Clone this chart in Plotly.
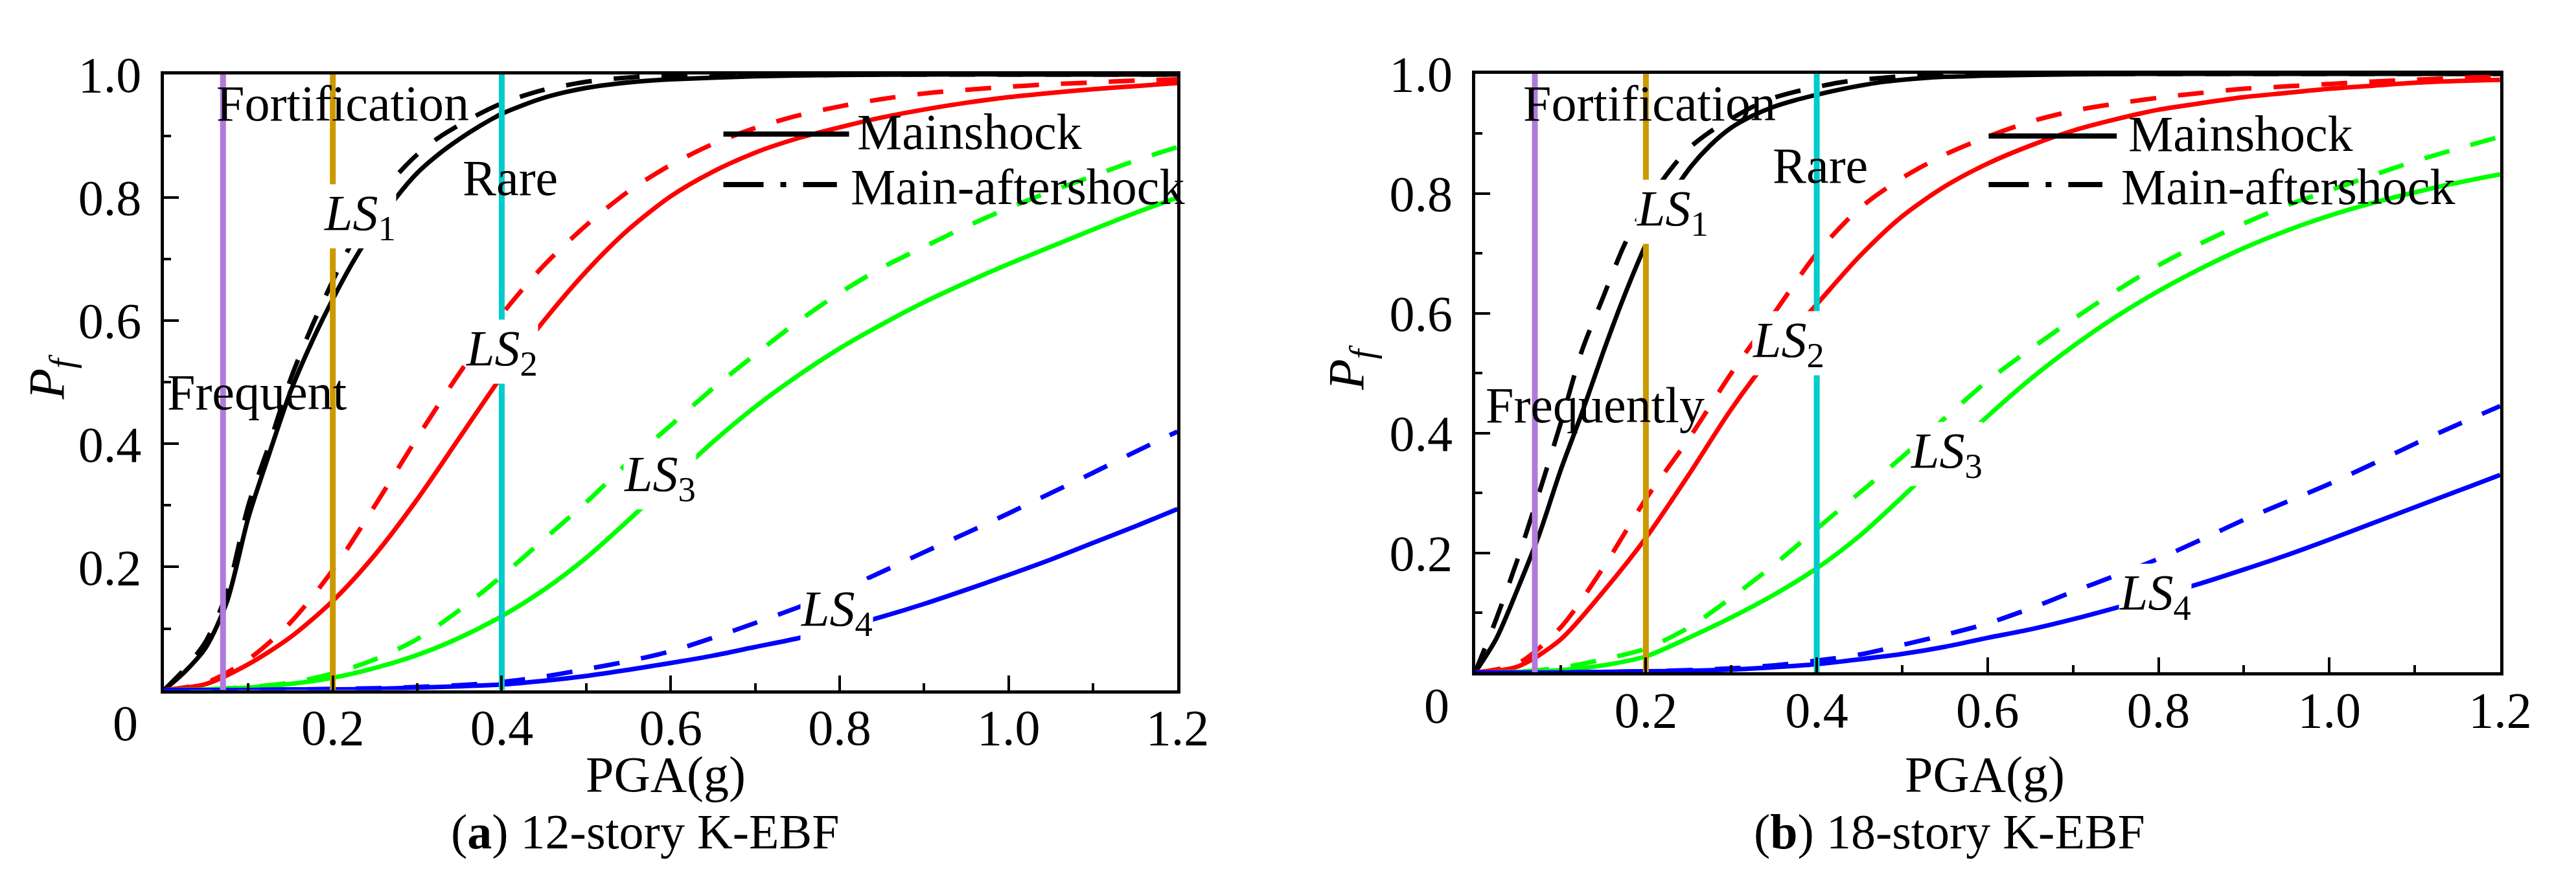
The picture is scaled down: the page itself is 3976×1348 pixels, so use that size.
import plotly.graph_objects as go

# PGA grids (g): finer grid for the steep LS1 curves
pga_ls1 = [0, 0.025, 0.05, 0.075, 0.1, 0.125, 0.15, 0.175, 0.2, 0.225, 0.25, 0.275,
           0.3, 0.325, 0.35, 0.375, 0.4, 0.425, 0.45, 0.475, 0.5, 0.525, 0.55, 0.575,
           0.6, 0.7, 0.8, 0.9, 1.0, 1.1, 1.2]
pga = [0, 0.05, 0.1, 0.15, 0.2, 0.25, 0.3, 0.35, 0.4, 0.45, 0.5, 0.55, 0.6, 0.65,
       0.7, 0.75, 0.8, 0.85, 0.9, 0.95, 1.0, 1.05, 1.1, 1.15, 1.2]

# (a) 12-story K-EBF
a_ls1_main = [0, .03, .07, .145, .28, .385, .485, .565, .635, .698, .752, .80, .84,
              .87, .895, .917, .936, .95, .962, .971, .978, .983, .987, .99, .992,
              .997, .999, 1, 1, 1, 1]
a_ls1_after = [0, .035, .08, .16, .30, .40, .505, .59, .665, .733, .79, .835, .87,
               .897, .918, .937, .953, .965, .975, .982, .988, .992, .995, .997, .998,
               1, 1, 1, 1, 1, 1]
a_ls2_main = [0, .01, .042, .086, .145, .22, .31, .41, .51, .60, .68, .748, .802,
              .842, .873, .896, .914, .93, .943, .954, .963, .97, .976, .981, .986]
a_ls2_after = [0, .012, .05, .11, .195, .30, .41, .515, .61, .69, .755, .81, .853,
               .887, .913, .933, .948, .96, .969, .975, .98, .984, .987, .99, .992]
a_ls3_main = [0, .001, .004, .01, .02, .036, .057, .085, .12, .163, .215, .276, .34,
              .403, .46, .51, .555, .594, .63, .662, .692, .72, .748, .775, .80]
a_ls3_after = [0, .001, .005, .012, .027, .05, .083, .13, .185, .245, .305, .37, .43,
               .49, .545, .598, .645, .686, .72, .753, .783, .81, .835, .86, .882]
a_ls4_main = [0, 0, 0, .001, .001, .002, .004, .006, .009, .015, .023, .033, .044,
              .056, .07, .084, .10, .119, .14, .163, .187, .212, .239, .266, .294]
a_ls4_after = [0, 0, 0, .001, .002, .003, .005, .008, .013, .022, .034, .047, .063,
               .085, .109, .134, .161, .192, .224, .255, .287, .32, .353, .387, .42]

# (b) 18-story K-EBF
b_ls1_main = [0, .057, .14, .23, .337, .433, .535, .63, .715, .785, .84, .88, .91,
              .93, .945, .956, .965, .973, .98, .986, .99, .993, .995, .996, .997,
              .999, 1, 1, 1, 1, 1]
b_ls1_after = [0, .09, .19, .30, .415, .537, .627, .715, .78, .833, .875, .903, .925,
               .945, .96, .97, .978, .985, .99, .993, .996, .997, .998, .999, .999,
               1, 1, 1, 1, 1, 1]
b_ls2_main = [0, .01, .055, .135, .225, .33, .44, .535, .615, .695, .762, .812, .85,
              .88, .905, .924, .94, .951, .961, .968, .975, .98, .985, .988, .99]
b_ls2_after = [0, .015, .075, .175, .29, .39, .50, .60, .70, .775, .826, .865, .895,
               .92, .938, .95, .96, .968, .975, .979, .983, .987, .99, .993, .995]
b_ls3_main = [0, .001, .004, .012, .027, .058, .092, .13, .174, .228, .293, .361, .428,
              .49, .545, .594, .637, .675, .709, .738, .763, .784, .802, .818, .832]
b_ls3_after = [0, .001, .008, .022, .04, .075, .125, .18, .24, .30, .36, .425, .487,
               .54, .59, .637, .68, .717, .75, .78, .805, .83, .854, .875, .895]
b_ls4_main = [0, 0, 0, .001, .002, .003, .005, .009, .014, .022, .031, .043, .058,
              .072, .089, .108, .128, .149, .172, .196, .222, .249, .276, .303, .33]
b_ls4_after = [0, 0, 0, .001, .002, .004, .007, .012, .02, .03, .046, .063, .082,
               .107, .135, .162, .19, .222, .255, .285, .315, .348, .382, .414, .445]

# seismic hazard levels (g)
level_pga = [0.07, 0.2, 0.4]
level_colors = ['#B07ADB', '#CC9900', '#00CCCC']

ls_colors = ['#000000', '#FF0000', '#00FF00', '#0000FF']
x_ticks = [0.2, 0.4, 0.6, 0.8, 1.0, 1.2]
y_ticks = [0.2, 0.4, 0.6, 0.8, 1.0]

FONT = "Liberation Serif, 'Times New Roman', Times, serif"
FS = 78
W, H = 3976, 1348

panels = [
    dict(xa='x', ya='y',
         curves=[(a_ls1_main, a_ls1_after), (a_ls2_main, a_ls2_after),
                 (a_ls3_main, a_ls3_after), (a_ls4_main, a_ls4_after)]),
    dict(xa='x2', ya='y2',
         curves=[(b_ls1_main, b_ls1_after), (b_ls2_main, b_ls2_after),
                 (b_ls3_main, b_ls3_after), (b_ls4_main, b_ls4_after)]),
]

fig = go.Figure()
for p in panels:
    for i, ((main, after), col) in enumerate(zip(p['curves'], ls_colors)):
        xs = pga_ls1 if i == 0 else pga
        fig.add_trace(go.Scatter(x=xs, y=main, mode='lines', xaxis=p['xa'], yaxis=p['ya'],
                                 line=dict(color=col, width=7, shape='spline', smoothing=0.8),
                                 showlegend=False, hoverinfo='skip'))
        fig.add_trace(go.Scatter(x=xs, y=after, mode='lines', xaxis=p['xa'], yaxis=p['ya'],
                                 line=dict(color=col, width=7, shape='spline', smoothing=0.8,
                                           dash='40px,34px'),
                                 showlegend=False, hoverinfo='skip'))
    for v, col in zip(level_pga, level_colors):
        fig.add_trace(go.Scatter(x=[v, v], y=[0, 1], mode='lines', xaxis=p['xa'], yaxis=p['ya'],
                                 line=dict(color=col, width=9), showlegend=False,
                                 hoverinfo='skip'))

axis_common = dict(showline=True, linewidth=5, linecolor='black', mirror=True,
                   ticks='inside', ticklen=23, tickwidth=4, tickcolor='black',
                   showgrid=False, zeroline=False,
                   tickfont=dict(family=FONT, size=FS, color='black'))
xaxis_kw = dict(axis_common, range=[0, 1.2], tickvals=x_ticks, ticklabelstandoff=-14,
                ticktext=['%.1f' % t for t in x_ticks],
                minor=dict(tickvals=[0.1, 0.3, 0.5, 0.7, 0.9, 1.1], ticks='inside',
                           ticklen=11, tickwidth=4, tickcolor='black'))
yaxis_kw = dict(axis_common, range=[0, 1], tickvals=y_ticks, ticklabelstandoff=14,
                ticktext=['%.1f' % t for t in y_ticks],
                minor=dict(tickvals=[0.1, 0.3, 0.5, 0.7, 0.9], ticks='inside',
                           ticklen=11, tickwidth=4, tickcolor='black'))

fig.update_layout(
    width=W, height=H, margin=dict(l=0, r=0, t=0, b=0),
    paper_bgcolor='white', plot_bgcolor='white', showlegend=False,
    xaxis=dict(xaxis_kw, domain=[248 / W, 1832 / W], anchor='y'),
    yaxis=dict(yaxis_kw, domain=[1 - 1048 / H, 1 - 66 / H], anchor='x'),
    xaxis2=dict(xaxis_kw, domain=[2297 / W, 3899 / W], anchor='y2'),
    yaxis2=dict(yaxis_kw, domain=[1 - 1020 / H, 1 - 65 / H], anchor='x2'),
)

txt = dict(family=FONT, size=FS, color='black')
ann = []


def label(xr, yr, x, y, text, bg=None, anchor='left'):
    d = dict(xref=xr, yref=yr, x=x, y=y, text=text, showarrow=False, font=txt,
             xanchor=anchor, yanchor='middle')
    if bg:
        d.update(bgcolor=bg, borderpad=0)
    ann.append(d)


ls_txt = ['<i>LS</i><sub>%d</sub>' % i for i in range(1, 5)]

# panel (a) labels
label('x', 'y', 0.061, 0.953, 'Fortification')
label('x', 'y', 0.002, 0.484, 'Frequent')
label('x', 'y', 0.352, 0.832, 'Rare')
for (x, y), t in zip([(0.189, 0.77), (0.357, 0.55), (0.544, 0.346), (0.753, 0.127)], ls_txt):
    label('x', 'y', x, y, t, bg='white')

# panel (b) labels
label('x2', 'y2', 0.055, 0.951, 'Fortification')
label('x2', 'y2', 0.0105, 0.4465, 'Frequently')
label('x2', 'y2', 0.347, 0.847, 'Rare')
for (x, y), t in zip([(0.188, 0.77), (0.324, 0.55), (0.509, 0.365), (0.753, 0.128)], ls_txt):
    label('x2', 'y2', x, y, t, bg='white')

# legends drawn as line samples + text
shapes = []
for xd, yd, x0, x1s, x1d, ys, yd2, xt in [('x domain', 'y domain', 0.552, 0.676, 0.664, 0.903, 0.821, 0.683),
                                          ('x2 domain', 'y2 domain', 0.501, 0.626, 0.612, 0.896, 0.815, 0.636)]:
    shapes.append(dict(type='line', xref=xd, yref=yd, x0=x0, x1=x1s, y0=ys, y1=ys,
                       line=dict(color='black', width=8)))
    shapes.append(dict(type='line', xref=xd, yref=yd, x0=x0, x1=x1d, y0=yd2, y1=yd2,
                       line=dict(color='black', width=8, dash='62px,26px,9px,26px,60px')))
    label(xd, yd, xt, ys + 0.004, 'Mainshock')
    label(xd, yd, xt - 0.007, yd2 - 0.004, 'Main-aftershock')

# corner zero labels
for xr, yr in [('x', 'y'), ('x2', 'y2')]:
    ann.append(dict(xref=xr, yref=yr, x=0, y=0, text='0', showarrow=False, font=txt,
                    xanchor='center', yanchor='middle', xshift=-59, yshift=-51))

# axis titles
for xp in [1032 / W, 3094 / W]:
    ann.append(dict(xref='paper', yref='paper', x=xp, y=1 - 1182 / H, text='PGA(g)',
                    showarrow=False, font=txt, xanchor='center', yanchor='middle'))
for xp, yp in [(70 / W, 1 - 549 / H), (2101 / W, 1 - 534 / H)]:
    ann.append(dict(xref='paper', yref='paper', x=xp, y=yp, text='<i>P</i><sub><i>f</i></sub>',
                    showarrow=False, font=txt, textangle=-90,
                    xanchor='center', yanchor='middle'))

# captions
cap = dict(family=FONT, size=76, color='black')
for xp, t in [(1000 / W, '(<b>a</b>) 12-story K-EBF'), (3038 / W, '(<b>b</b>) 18-story K-EBF')]:
    ann.append(dict(xref='paper', yref='paper', x=xp, y=1 - 1274 / H, text=t,
                    showarrow=False, font=cap, xanchor='center', yanchor='middle'))

fig.update_layout(annotations=ann, shapes=shapes)
fig.write_html("out.html")
